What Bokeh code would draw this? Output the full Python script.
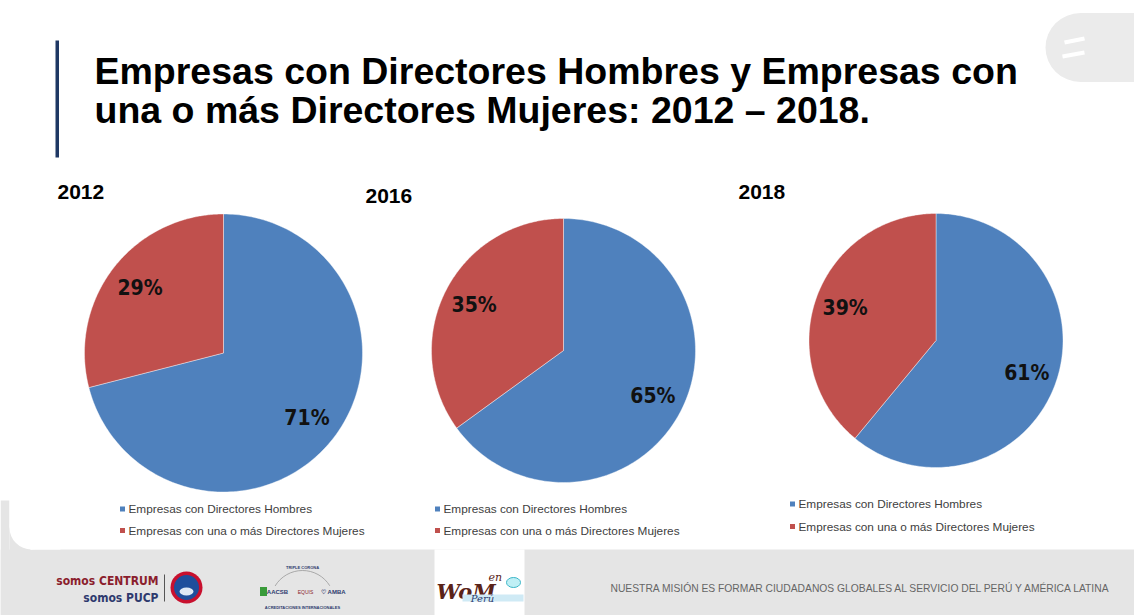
import numpy as np
from bokeh.plotting import figure
from bokeh.models import Range1d, ColumnDataSource
from bokeh.core.properties import value
from bokeh.embed import file_html
from bokeh.resources import INLINE

# ---------------- data ----------------
years = ["2012", "2016", "2018"]
categories = ["Empresas con Directores Hombres", "Empresas con una o más Directores Mujeres"]
hombres = [71, 65, 61]
mujeres = [29, 35, 39]
colors = ["#4F81BD", "#C0504D"]
title_lines = ["Empresas con Directores Hombres y Empresas con",
               "una o más Directores Mujeres: 2012 \u2013 2018."]
tagline = "NUESTRA MISIÓN ES FORMAR CIUDADANOS GLOBALES AL SERVICIO DEL PERÚ Y AMÉRICA LATINA"

# ---------------- layout (screen-like coordinates) ----------------
pie_cx = [223, 563, 935.5]
pie_cy = [352.5, 350, 340]
pie_r = [139, 132, 127]
year_x = [57, 365, 738]
year_y = [191, 195, 191]
leg_x = [122, 437, 792]
leg_y = [[508.5, 530], [508.5, 530], [503.5, 526]]
LABEL_K = 0.76
NARROW = "'Liberation Sans Narrow', 'DejaVu Sans Condensed', 'Liberation Sans', sans-serif"

W, H = 1134, 615
p = figure(width=W, height=H, x_range=Range1d(0, W), y_range=Range1d(H, 0),
           output_backend="svg", toolbar_location=None, min_border=0)
p.axis.visible = False
p.grid.visible = False
p.outline_line_color = None
p.background_fill_color = "white"
p.border_fill_color = "white"

# footer band + left strip
p.quad(left=[0], right=[W], top=[549], bottom=[H], fill_color="#e5e5e5", line_color=None)
p.quad(left=[0], right=[9], top=[500], bottom=[H], fill_color="#e5e5e5", line_color=None)
# rounded bottom-left corner of white area
p.quad(left=[9], right=[30], top=[525], bottom=[552], fill_color="#e5e5e5", line_color=None)
p.ellipse(x=[31], y=[527], width=[44], height=[44], fill_color="white", line_color=None)
p.quad(left=[30], right=[60], top=[515], bottom=[549], fill_color="white", line_color=None)
p.quad(left=[9], right=[60], top=[495], bottom=[527], fill_color="white", line_color=None)

# top-right grey tab
p.ellipse(x=[1080], y=[47], width=[70], height=[69], fill_color="#ebebeb", line_color=None)
p.quad(left=[1080], right=[W], top=[12.5], bottom=[81.5], fill_color="#ebebeb", line_color=None)
p.line(x=[1064, 1084], y=[42, 38], line_color="white", line_width=4)
p.line(x=[1062, 1084], y=[56, 52], line_color="white", line_width=4)

# blue vertical bar
p.quad(left=[55], right=[58.5], top=[40], bottom=[157], fill_color="#1F3864", line_color=None)

# title
for i, t in enumerate(title_lines):
    p.text(x=[94], y=[70 + 39 * i], text=[t], text_font=value("Liberation Sans"),
           text_font_style="bold", text_font_size="37.5px", text_color="black",
           text_baseline="middle", text_align="left")

# pies
for k in range(3):
    vals = np.array([hombres[k], mujeres[k]], dtype=float)
    frac = vals / vals.sum()
    ends = np.cumsum(frac) * 2 * np.pi
    starts = ends - frac * 2 * np.pi
    xs, ys, lx, ly, lt = [], [], [], [], []
    for s, e, v in zip(starts, ends, vals):
        th = np.linspace(s, e, 200)
        xs.append(np.concatenate([[pie_cx[k]], pie_cx[k] + pie_r[k] * np.sin(th)]))
        ys.append(np.concatenate([[pie_cy[k]], pie_cy[k] - pie_r[k] * np.cos(th)]))
        m = (s + e) / 2
        lx.append(pie_cx[k] + LABEL_K * pie_r[k] * np.sin(m))
        ly.append(pie_cy[k] - LABEL_K * pie_r[k] * np.cos(m))
        lt.append(f"{int(v)}%")
    src = ColumnDataSource(dict(xs=xs, ys=ys, c=colors))
    p.patches("xs", "ys", source=src, fill_color="c", line_color="white",
              line_alpha=0.5, line_width=0.8)
    p.text(x=lx, y=ly, text=lt, text_font=value(NARROW),
           text_font_style="bold", text_font_size="21px", text_color="#111111",
           text_align="center", text_baseline="middle")
    # year label
    p.text(x=[year_x[k]], y=[year_y[k]], text=[years[k]], text_font=value("Liberation Sans"),
           text_font_style="bold", text_font_size="21px", text_color="black",
           text_baseline="middle")
    # legend
    for j in range(2):
        p.rect(x=[leg_x[k]], y=[leg_y[k][j]], width=5, height=5, fill_color=colors[j],
               line_color=None)
        p.text(x=[leg_x[k] + 6], y=[leg_y[k][j]], text=[categories[j]],
               text_font=value("Liberation Sans"), text_font_size="11.8px",
               text_color="#404040", text_baseline="middle")

# footer: logos approximated with shapes and text
p.text(x=[158], y=[580], text=["somos CENTRUM"], text_font=value(NARROW),
       text_font_size="12px", text_font_style="bold", text_color="#8B1E2D",
       text_align="right", text_baseline="middle")
p.text(x=[158], y=[597], text=["somos PUCP"], text_font=value(NARROW),
       text_font_size="12px", text_font_style="bold", text_color="#2E3A6E",
       text_align="right", text_baseline="middle")
p.line(x=[164, 164], y=[574, 601], line_color="#555555", line_width=1)
p.ellipse(x=[186], y=[587], width=[32], height=[32], fill_color="#c8102e", line_color=None)
p.ellipse(x=[186], y=[587], width=[25], height=[25], fill_color="#1f4e9c", line_color=None)
p.ellipse(x=[186], y=[591], width=[14], height=[8], fill_color="#dfe8f5", line_color=None)

p.text(x=[302], y=[567], text=["TRIPLE CORONA"], text_font=value("Liberation Sans"),
       text_font_size="4px", text_font_style="bold", text_color="#2E3A6E", text_align="center",
       text_baseline="middle")
p.arc(x=[302], y=[602], radius=32, start_angle=0.55, end_angle=2.6, line_color="#999999",
      line_width=0.8)
p.rect(x=[263], y=[591], width=7, height=9, fill_color="#3a9b3a", line_color=None)
p.text(x=[277], y=[591], text=["AACSB"], text_font=value("Liberation Sans"), text_font_size="6px",
       text_font_style="bold", text_color="#2E3A6E", text_align="center", text_baseline="middle")
p.text(x=[305], y=[591], text=["EQUIS"], text_font=value("Liberation Sans"), text_font_size="5px",
       text_color="#8B1E2D", text_align="center", text_baseline="middle")
p.text(x=[333], y=[591], text=["\u2661 AMBA"], text_font=value("Liberation Sans"), text_font_size="6px",
       text_font_style="bold", text_color="#2E3A6E", text_align="center", text_baseline="middle")
p.text(x=[302], y=[607], text=["ACREDITACIONES INTERNACIONALES"], text_font=value("Liberation Sans"),
       text_font_size="4px", text_font_style="bold", text_color="#2E3A6E", text_align="center",
       text_baseline="middle")

p.quad(left=[434], right=[524], top=[549], bottom=[H], fill_color="white", line_color=None)
p.text(x=[436], y=[591], text=["WoM"], text_font=value("DejaVu Serif"), text_font_style="bold italic",
       text_font_size="21px", text_color="#5a2318", text_baseline="alphabetic")
p.text(x=[488], y=[577], text=["en"], text_font=value("DejaVu Serif"), text_font_style="italic",
       text_font_size="11px", text_color="#5a2318", text_baseline="alphabetic")
p.ellipse(x=[513], y=[582], width=[14], height=[10], fill_color="#bfeff5", line_color="#3ab6c8")
p.quad(left=[462], right=[523], top=[594], bottom=[601], fill_color="#cfeaf5", line_color=None)
p.text(x=[482], y=[598], text=["Perú"], text_font=value("DejaVu Serif"), text_font_style="italic",
       text_font_size="10px", text_color="#2E3A6E", text_align="center", text_baseline="middle")

p.text(x=[610], y=[588], text=[tagline], text_font=value("Liberation Sans"),
       text_font_size="10.3px", text_color="#666666", text_baseline="middle")

open("out.html", "w").write(file_html(p, INLINE))
